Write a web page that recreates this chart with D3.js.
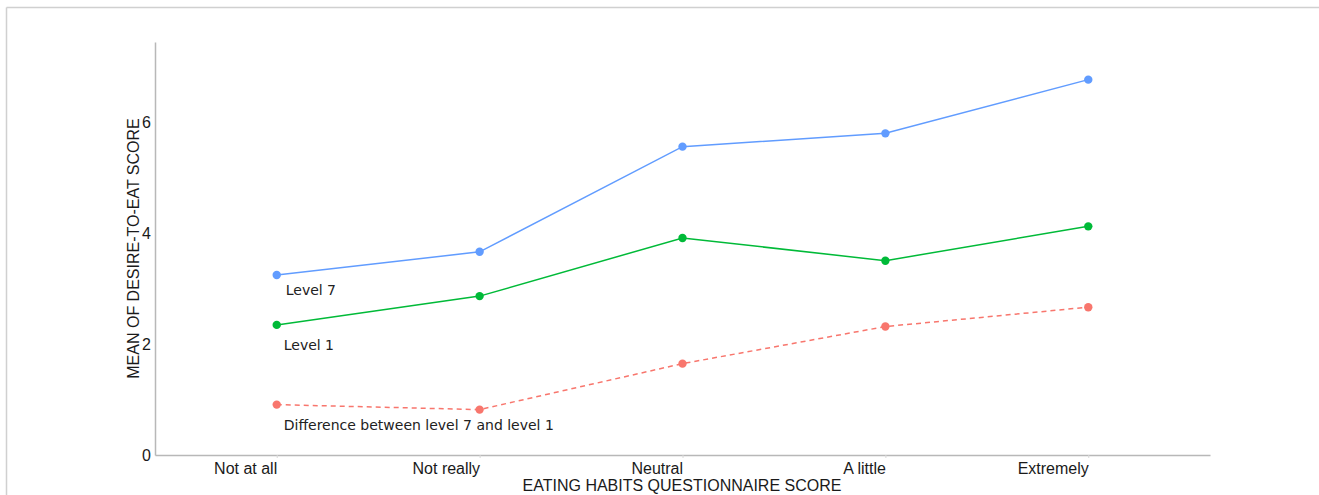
<!DOCTYPE html>
<html><head><meta charset="utf-8">
<script src="https://cdn.jsdelivr.net/npm/d3@7"></script>
<style>html,body{margin:0;padding:0;background:#fff;}</style>
</head><body>
<svg id="c" width="1319" height="495"></svg>
<script>
const categories = ["Not at all", "Not really", "Neutral", "A little", "Extremely"];
const level7 = [3.25, 3.67, 5.57, 5.81, 6.78];
const level1 = [2.35, 2.87, 3.92, 3.51, 4.13];
const difference = [0.91, 0.82, 1.65, 2.32, 2.67];
const yTicks = [0, 2, 4, 6];
const seriesNames = ["Level 7", "Level 1", "Difference between level 7 and level 1"];

const svg = d3.select("#c");
// frame lines
svg.append("line").attr("x1",6.5).attr("x2",1319).attr("y1",7.5).attr("y2",7.5).attr("stroke","#d0d0d0").attr("stroke-width",1.5);
svg.append("line").attr("x1",6.5).attr("x2",6.5).attr("y1",7.5).attr("y2",495).attr("stroke","#d0d0d0").attr("stroke-width",1.5);

const x = d3.scalePoint().domain(categories).range([155, 1210]).padding(0.6);
const y = d3.scaleLinear().domain([0, 7.46]).range([455, 42]);

// axes
const xa = svg.append("g").attr("transform","translate(0,455)")
  .call(d3.axisBottom(x).tickSize(3).tickSizeOuter(0));
xa.select(".domain").attr("stroke","#b8b8b8").attr("stroke-width",1.5);
xa.selectAll(".tick line").attr("stroke","#d8d8d8");
xa.selectAll(".tick text").attr("text-anchor","end").attr("dx", "0").attr("y", 8)
  .attr("font-family","'Liberation Sans', Arial, sans-serif").attr("font-size",16).attr("fill","#1a1a1a");

const ya = svg.append("g").attr("transform","translate(155,0)")
  .call(d3.axisLeft(y).tickValues(yTicks).tickSize(0).tickSizeOuter(0).tickPadding(4));
ya.select(".domain").attr("stroke","#b8b8b8").attr("stroke-width",1.5);
ya.selectAll(".tick text").attr("font-family","'Liberation Sans', Arial, sans-serif").attr("font-size",16).attr("fill","#1a1a1a");

// axis titles
svg.append("text").attr("x",682).attr("y",491).attr("text-anchor","middle")
  .attr("font-family","'Liberation Sans', Arial, sans-serif").attr("font-size",16).attr("fill","#1a1a1a")
  .text("EATING HABITS QUESTIONNAIRE SCORE");
svg.append("text").attr("transform","translate(139,248.5) rotate(-90)").attr("text-anchor","middle")
  .attr("font-family","'Liberation Sans', Arial, sans-serif").attr("font-size",16).attr("fill","#1a1a1a")
  .text("MEAN OF DESIRE-TO-EAT SCORE");

const series = [
  {name: seriesNames[0], values: level7, color: "#619CFF", dash: null, dx: 9, dy: 20},
  {name: seriesNames[1], values: level1, color: "#00BA38", dash: null, dx: 7, dy: 25},
  {name: seriesNames[2], values: difference, color: "#F8766D", dash: "5,4", dx: 7, dy: 25}
];
const line = d3.line().x((d,i)=>x(categories[i])).y(d=>y(d));
series.forEach(s => {
  svg.append("path").datum(s.values).attr("d", line).attr("fill","none")
    .attr("stroke", s.color).attr("stroke-width",1.5)
    .attr("stroke-dasharray", s.dash);
  svg.selectAll(null).data(s.values).enter().append("circle")
    .attr("cx",(d,i)=>x(categories[i])).attr("cy",d=>y(d)).attr("r",4.2).attr("fill",s.color);
  svg.append("text").attr("x", x(categories[0]) + s.dx).attr("y", y(s.values[0]) + s.dy)
    .attr("font-family","'DejaVu Sans', sans-serif").attr("font-size",14).attr("fill","#222")
    .text(s.name);
});
</script>
</body></html>
